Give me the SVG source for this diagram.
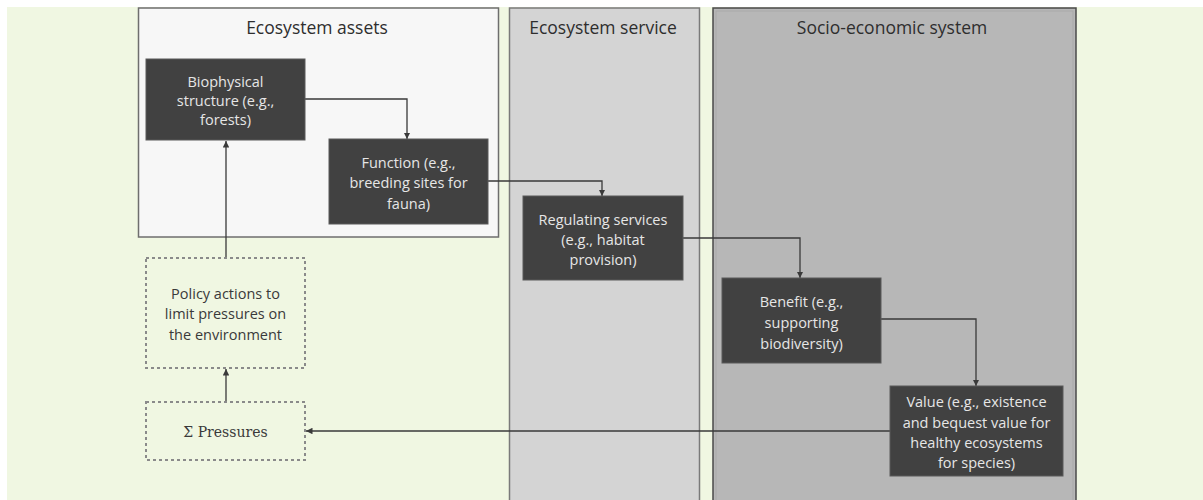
<svg xmlns="http://www.w3.org/2000/svg" width="1203" height="500" viewBox="0 0 1203 500">
<defs>
<style>
.panel{stroke-width:1.5}
.node rect{fill:#414141;stroke:#5a5a5a;stroke-width:1}
.node text{fill:#e6e6e6;font-family:"Open Sans","Liberation Sans",sans-serif;font-size:14.5px;text-anchor:middle;dominant-baseline:central}
.dnode rect{fill:none;stroke:#8a8a8a;stroke-width:2;stroke-dasharray:3,3}
.dnode text{fill:#3a3a3a;font-family:"Open Sans","Liberation Sans",sans-serif;font-size:14.5px;text-anchor:middle;dominant-baseline:central}
.title{fill:#2e2e2e;font-family:"Open Sans","Liberation Sans",sans-serif;font-size:17.5px;text-anchor:middle}
.conn{fill:none;stroke:#3a3a3a;stroke-width:1.3}
</style>
<marker id="ah" viewBox="0 0 10 10" refX="10" refY="5" markerWidth="5" markerHeight="5" orient="auto">
<path d="M0,0 L10,5 L0,10 z" fill="#3a3a3a"/>
</marker>
</defs>
<rect x="0" y="0" width="1203" height="500" fill="#ffffff"/>
<rect x="7" y="7" width="1196" height="493" fill="#f0f7e2"/>

<g id="panel-assets">
<rect class="panel" x="138.5" y="8" width="360" height="229" fill="#f7f7f7" stroke="#6e6e6e"/>
<text class="title" x="317" y="34">Ecosystem assets</text>
</g>
<g id="panel-service">
<rect class="panel" x="509.5" y="8" width="190" height="500" fill="#d4d4d4" stroke="#7a7a7a"/>
<text class="title" x="603" y="34">Ecosystem service</text>
</g>
<g id="panel-socio">
<rect class="panel" x="713" y="8" width="363" height="500" fill="#b7b7b7" stroke="#4a4a4a"/>
<rect x="716" y="11" width="357" height="494" fill="none" stroke="#a9a9a9" stroke-width="1"/>
<text class="title" x="892" y="34">Socio-economic system</text>
</g>

<g id="connectors">
<path class="conn" d="M305,99 H407 V139" marker-end="url(#ah)"/>
<path class="conn" d="M488,181 H602 V196" marker-end="url(#ah)"/>
<path class="conn" d="M683,238 H800 V278" marker-end="url(#ah)"/>
<path class="conn" d="M881,319 H976 V386" marker-end="url(#ah)"/>
<path class="conn" d="M890,431 H306" marker-end="url(#ah)"/>
<path class="conn" d="M226,402 V369" marker-end="url(#ah)"/>
<path class="conn" d="M226,258 V141" marker-end="url(#ah)"/>
</g>

<g id="biophysical" class="node">
<rect x="146" y="59" width="159" height="81"/>
<text x="225.5" y="81">Biophysical</text>
<text x="225.5" y="100">structure (e.g.,</text>
<text x="225.5" y="119">forests)</text>
</g>
<g id="function" class="node">
<rect x="329" y="139" width="159" height="85"/>
<text x="408.5" y="162">Function (e.g.,</text>
<text x="408.5" y="182">breeding sites for</text>
<text x="408.5" y="203">fauna)</text>
</g>
<g id="regulating" class="node">
<rect x="523" y="196" width="160" height="84"/>
<text x="603" y="219">Regulating services</text>
<text x="603" y="239">(e.g., habitat</text>
<text x="603" y="259">provision)</text>
</g>
<g id="benefit" class="node">
<rect x="722" y="278" width="159" height="85"/>
<text x="801.5" y="301">Benefit (e.g.,</text>
<text x="801.5" y="322">supporting</text>
<text x="801.5" y="343">biodiversity)</text>
</g>
<g id="value" class="node">
<rect x="890" y="386" width="173" height="90"/>
<text x="976.5" y="401">Value (e.g., existence</text>
<text x="976.5" y="422">and bequest value for</text>
<text x="976.5" y="442">healthy ecosystems</text>
<text x="976.5" y="462">for species)</text>
</g>
<g id="policy" class="dnode">
<rect x="146" y="258" width="159" height="110"/>
<text x="225.5" y="293">Policy actions to</text>
<text x="225.5" y="313">limit pressures on</text>
<text x="225.5" y="334">the environment</text>
</g>
<g id="pressures" class="dnode">
<rect x="146" y="402" width="159" height="58"/>
<text x="225.5" y="432" style="font-family:'DejaVu Serif','Liberation Serif',serif;font-size:14px">Σ Pressures</text>
</g>
</svg>
